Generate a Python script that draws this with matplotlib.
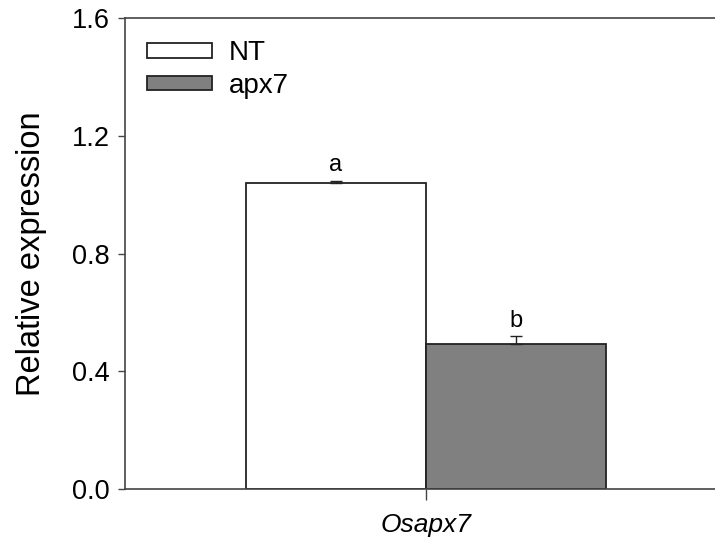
import matplotlib.pyplot as plt
import numpy as np

plt.rcParams['font.family'] = ['Liberation Sans', 'DejaVu Sans']

# Données
groups = ['NT', 'apx7']
values = [1.038, 0.491]
errors = [0.009, 0.029]
letters = ['a', 'b']
colors = ['white', '#808080']
gene = 'Osapx7'

fig = plt.figure(figsize=(7.15, 5.41), dpi=100)
ax = fig.add_axes([0.1748, 0.0961, 0.8252, 0.8706])

x = np.array([-0.5, 0.5])
for xi, v, e, c, g, l in zip(x, values, errors, colors, groups, letters):
    ax.bar(xi, v, width=1.0, color=c, edgecolor='#222222', linewidth=1.3, label=g)
    ax.errorbar(xi, v, yerr=[[0], [e]], fmt='none', ecolor='#222222',
                elinewidth=1.0, capsize=4, capthick=1.0)
    ax.text(xi, v + e + 0.015, l, ha='center', va='bottom', fontsize=17)

ax.set_xlim(-1.672, 1.606)
ax.set_ylim(0, 1.6)
ax.set_yticks([0.0, 0.4, 0.8, 1.2, 1.6])
ax.set_yticklabels(['0.0', '0.4', '0.8', '1.2', '1.6'], fontsize=19.5)
ax.set_xticks([0])
ax.set_xticklabels([gene], fontsize=19, style='italic')
ax.tick_params(axis='y', direction='out', length=5, width=1, color='#444444', pad=6)
ax.tick_params(axis='x', direction='out', length=8, width=1, color='#444444', pad=9)
ax.set_ylabel('Relative expression', fontsize=23.5, labelpad=18)

ax.spines['right'].set_visible(False)
for s in ['left', 'top', 'bottom']:
    ax.spines[s].set_color('#444444')
    ax.spines[s].set_linewidth(1.2)

ax.legend(loc='upper left', bbox_to_anchor=(0.0, 1.0), frameon=False,
          fontsize=20, handlelength=2.35, handleheight=0.42, handletextpad=0.6,
          labelspacing=0.25, borderaxespad=0.4)

plt.savefig('out.png', dpi=100)
